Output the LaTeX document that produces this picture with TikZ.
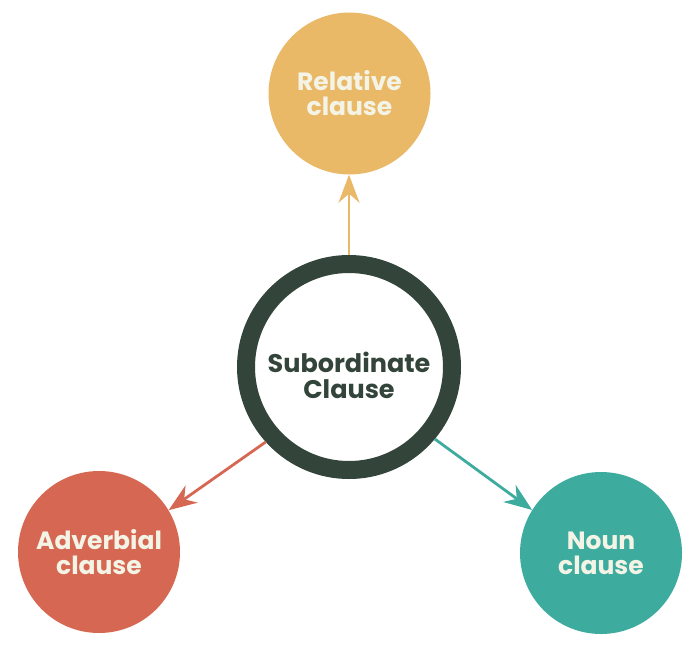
\documentclass[tikz,border=0pt]{standalone}
\usepackage{fontspec}
\setmainfont{Poppins}[BoldFont={* Bold}]
\usetikzlibrary{arrows.meta}
\definecolor{cyel}{HTML}{EAB968}
\definecolor{cred}{HTML}{D66853}
\definecolor{cteal}{HTML}{3DAC9F}
\definecolor{cdark}{HTML}{33443A}
\definecolor{ctext}{HTML}{F4F4E6}
\begin{document}
\begin{tikzpicture}[x=1pt,y=-1pt,
  leaf/.style={circle,minimum size=162pt,inner sep=0pt,text=ctext,
    font=\fontsize{25}{25}\selectfont\bfseries,align=center},
  hub/.style={circle,draw=cdark,line width=18pt,minimum size=206pt,inner sep=0pt},
  hubtext/.style={text=cdark,font=\fontsize{25.5}{26}\selectfont\bfseries,align=center},
  link/.style={line width=2.8pt,-{Stealth[length=28pt,width=21pt,inset=9pt]}}]
\useasboundingbox (0,0) rectangle (700,647);
\node[hub] (c) at (349,367) {};
\node[hubtext] (ct) at ([yshift=-8pt]c.center) {Subordinate\\Clause};
\node[leaf,fill=cyel] (r) at (349.5,93.5) {Relative\\clause};
\node[leaf,fill=cred] (a) at (99,552) {Adverbial\\clause};
\node[leaf,fill=cteal] (n) at (601,553) {Noun\\clause};
\draw[link,cyel] (c.90) -- (c.90 |- r.south);
\draw[link,cred] (c.222.4) -- (a.31);
\draw[link,cteal] (c.320.5) -- (n.148);
\end{tikzpicture}
\end{document}
